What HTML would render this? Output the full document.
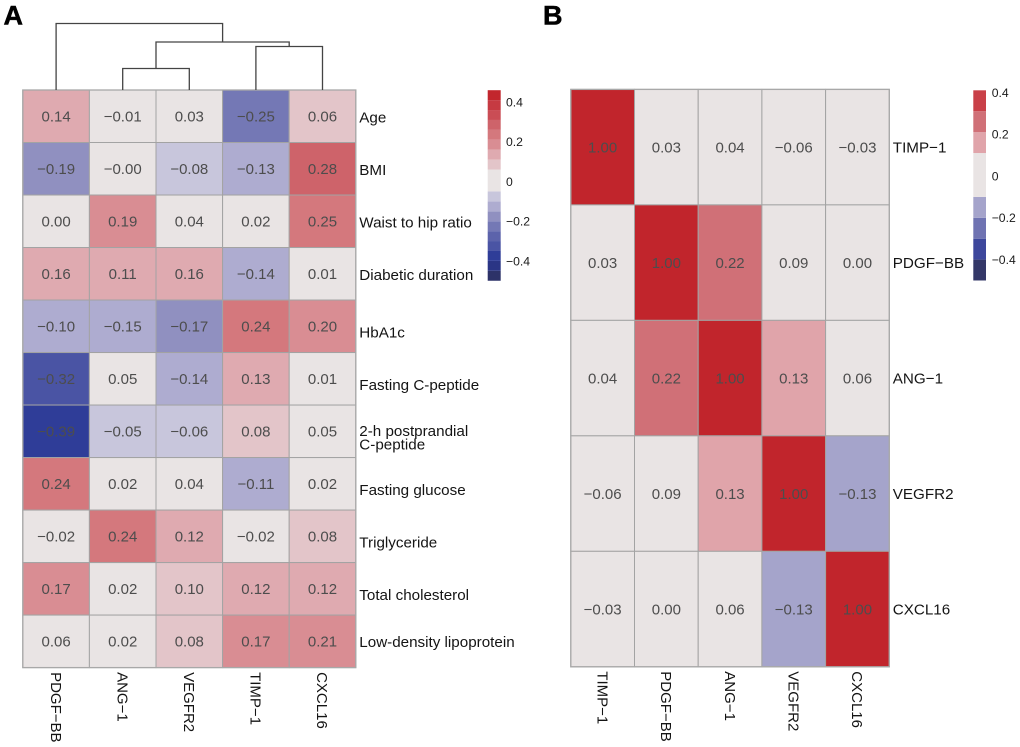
<!DOCTYPE html>
<html lang="en">
<head>
<meta charset="utf-8">
<title>Correlation heatmaps</title>
<style>
html,body{margin:0;padding:0;background:#fff;}
svg{display:block;font-family:"Liberation Sans",Arial,sans-serif;}
</style>
</head>
<body>
<svg id="chart" width="1020" height="747" viewBox="0 0 1020 747" xmlns="http://www.w3.org/2000/svg">
  <rect x="0" y="0" width="1020" height="747" fill="#ffffff"></rect>
  <text x="3.5" y="24.5" font-size="27" font-weight="700" fill="#000" stroke="#000" stroke-width="0.5">A</text>
  <text x="543" y="24.5" font-size="27" font-weight="700" fill="#000" stroke="#000" stroke-width="0.5">B</text>
</svg>
<script>
// ---------- Panel A data ----------
const colsA = ["PDGF−BB", "ANG−1", "VEGFR2", "TIMP−1", "CXCL16"];
const rowsA = ["Age", "BMI", "Waist to hip ratio", "Diabetic duration", "HbA1c", "Fasting C-peptide", "2-h postprandial\nC-peptide", "Fasting glucose", "Triglyceride", "Total cholesterol", "Low-density lipoprotein"];
const valuesA = [
  [0.14, -0.01, 0.03, -0.248, 0.062],
  [-0.19, -0.001, -0.08, -0.13, 0.28],
  [0.00, 0.19, 0.04, 0.02, 0.25],
  [0.158, 0.112, 0.158, -0.14, 0.01],
  [-0.102, -0.148, -0.17, 0.24, 0.20],
  [-0.32, 0.05, -0.14, 0.13, 0.01],
  [-0.39, -0.052, -0.06, 0.08, 0.05],
  [0.24, 0.02, 0.04, -0.11, 0.02],
  [-0.02, 0.24, 0.12, -0.02, 0.08],
  [0.17, 0.02, 0.10, 0.12, 0.12],
  [0.058, 0.02, 0.08, 0.17, 0.208]
];
const legendBreaksA = [-0.5, -0.45, -0.4, -0.35, -0.3, -0.25, -0.2, -0.15, -0.1, -0.05, 0.06, 0.11, 0.16, 0.21, 0.26, 0.31, 0.36, 0.41, 0.46];
const legendColorsA = ["#2d3268", "#2a3585", "#2f3d98", "#4a54a4", "#5c63ab", "#7478b5", "#9090c0", "#aeacd0", "#c8c6dc", "#e9e4e4", "#e3c5c9", "#dfaab0", "#d98d93", "#d4787d", "#ce636a", "#ca4d55", "#c63a42", "#c2262d"];
const legendTicksA = [0.4, 0.2, 0, -0.2, -0.4];

// Dendrogram: leaves 0-4, then each merge creates node 5, 6, ...
const dendroMerges = [[1, 2], [3, 4], [5, 6], [0, 7]];
const dendroHeights = [0.323, 0.654, 0.722, 1];

// ---------- Panel B data ----------
const colsB = ["TIMP−1", "PDGF−BB", "ANG−1", "VEGFR2", "CXCL16"];
const rowsB = ["TIMP−1", "PDGF−BB", "ANG−1", "VEGFR2", "CXCL16"];
const valuesB = [
  [1.00, 0.03, 0.04, -0.06, -0.03],
  [0.03, 1.00, 0.22, 0.09, 0.00],
  [0.04, 0.22, 1.00, 0.13, 0.06],
  [-0.06, 0.09, 0.13, 1.00, -0.13],
  [-0.03, 0.00, 0.06, -0.13, 1.00]
];
const legendBreaksB = [-0.5, -0.4, -0.3, -0.2, -0.1, 0.11, 0.21, 0.31, 0.41];
const legendColorsB = ["#343868", "#3d479c", "#6f73b2", "#a5a4cb", "#e9e4e4", "#e0a4aa", "#d07077", "#c94048"];
const legendTicksB = [0.4, 0.2, 0, -0.2, -0.4];
const overColorB = "#c1252c";

// ---------- Drawing ----------
const NS = "http://www.w3.org/2000/svg";
const svg = document.getElementById("chart");

function mk(tag, parent) {
  const el = document.createElementNS(NS, tag);
  parent.appendChild(el);
  return el;
}
function setA(el, map) {
  for (const k in map) el.setAttribute(k, map[k]);
}
function fmt(v, digits) {
  return v.toFixed(digits).replace("-", "−");
}
function binColor(v, breaks, colors, over) {
  if (v >= breaks[breaks.length - 1]) return over || colors[colors.length - 1];
  for (let i = 0; i < colors.length; i++) {
    if (v < breaks[i + 1]) return colors[i];
  }
  return colors[colors.length - 1];
}
function slug(s) {
  return s.toLowerCase().replace(/[^a-z0-9]+/g, "-");
}

function drawHeat(p) {
  const g = mk("g", svg);
  
  
  const cw = (p.x1 - p.x0) / p.cols.length;
  const ch = (p.y1 - p.y0) / p.rows.length;
  const xAxis = i => p.x0 + i * cw;
  const yAxis = i => p.y0 + i * ch;

  p.values.forEach((row, r) => {
    row.forEach((v, c) => {
      const rect = mk("rect", g);
      
      
      setA(rect, {x: xAxis(c), y: yAxis(r), width: cw, height: ch,
        fill: binColor(v, p.breaks, p.colors, p.over), stroke: "#a3a3a3", "stroke-width": 1});
      const t = mk("text", g);
      
      
      setA(t, {x: xAxis(c) + cw / 2, y: yAxis(r) + ch / 2 + 5.2, "text-anchor": "middle",
        "font-size": 15, fill: "#4d4d4d"});
      t.textContent = fmt(v, 2);
    });
  });

  const frame = mk("rect", g);
  
  
  setA(frame, {x: p.x0, y: p.y0, width: p.x1 - p.x0, height: p.y1 - p.y0,
    fill: "none", stroke: "#a8a8a8", "stroke-width": 1.3});

  p.rows.forEach((label, r) => {
    const t = mk("text", g);
    
    
    const nudge = p.labelNudge ? p.labelNudge(r) : 0;
    const cy = yAxis(r) + ch / 2 + nudge;
    setA(t, {"font-size": 15.2, fill: "#141414"});
    const lines = label.split("\n");
    lines.forEach((line, i) => {
      const ts = mk("tspan", t);
      setA(ts, {x: p.x1 + 3.5, y: cy + 5.4 + (i - (lines.length - 1) / 2) * 13.7});
      ts.textContent = line;
    });
  });

  p.cols.forEach((label, c) => {
    const t = mk("text", g);
    
    
    const cx = xAxis(c) + cw / 2;
    const ty = p.y1 + 4.5;
    setA(t, {transform: "translate(" + (cx - 5.3) + "," + ty + ") rotate(90)", x: 0, y: 0,
      "font-size": 15, fill: "#141414"});
    t.textContent = label;
  });
  return {xAxis, cw};
}

function drawLegend(p) {
  const g = mk("g", svg);
  
  
  const yAxis = v => p.zeroY - v * p.pxPerUnit;
  p.colors.forEach((col, i) => {
    const r = mk("rect", g);
    
    
    const top = yAxis(p.breaks[i + 1]);
    const bottom = yAxis(p.breaks[i]);
    setA(r, {x: p.x, y: top, width: p.w, height: bottom - top, fill: col});
  });
  p.ticks.forEach(v => {
    const t = mk("text", g);
    
    
    setA(t, {x: p.labelX, y: yAxis(v) + 4.4, "font-size": 12.2, fill: "#1a1a1a"});
    t.textContent = v === 0 ? "0" : fmt(v, 1);
  });
}

// The row labels of panel A sit lower than their rows from the fifth row on, as in the source figure.
const heatA = drawHeat({name: "panel-a", x0: 22.8, x1: 355.8, y0: 90, y1: 667.6,
  rows: rowsA, cols: colsA, values: valuesA, breaks: legendBreaksA, colors: legendColorsA,
  labelNudge: r => (r >= 4 && r <= 9) ? 6 : (r === 10 ? 0.5 : 0.8)});
drawHeat({name: "panel-b", x0: 570.8, x1: 889.3, y0: 89.4, y1: 666.8,
  rows: rowsB, cols: colsB, values: valuesB, breaks: legendBreaksB, colors: legendColorsB, over: overColorB});

drawLegend({name: "panel-a", x: 487.7, w: 13, zeroY: 181.5, pxPerUnit: 198.5, labelX: 506,
  breaks: legendBreaksA, colors: legendColorsA, ticks: legendTicksA});
drawLegend({name: "panel-b", x: 973.3, w: 12.7, zeroY: 176, pxPerUnit: 209, labelX: 991.7,
  breaks: legendBreaksB, colors: legendColorsB, ticks: legendTicksB});

// Dendrogram
(function () {
  const g = mk("g", svg);
  
  
  const baseY = 90, span = 66.5;
  const yH = h => baseY - h * span;
  const nodes = colsA.map((_, i) => ({x: heatA.xAxis(i) + heatA.cw / 2, h: 0}));
  dendroMerges.forEach((m, i) => {
    const a = nodes[m[0]], b = nodes[m[1]], h = dendroHeights[i];
    const path = mk("path", g);
    
    
    setA(path, {d: "M" + a.x + " " + yH(a.h) + "V" + yH(h) + "H" + b.x + "V" + yH(b.h),
      fill: "none", stroke: "#444444", "stroke-width": 1.3});
    nodes.push({x: (a.x + b.x) / 2, h: h});
  });
})();
</script>
</body>
</html>
